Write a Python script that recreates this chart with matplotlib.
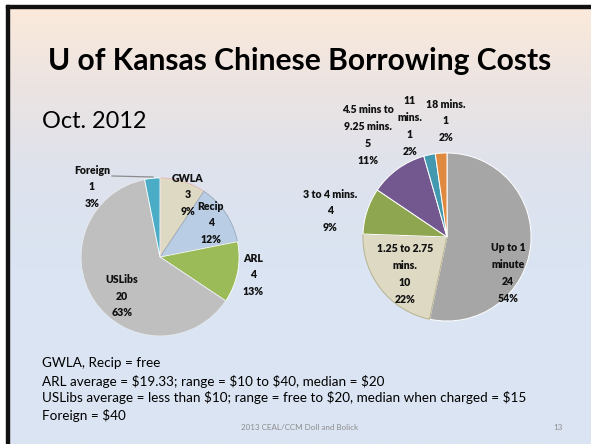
import matplotlib
matplotlib.use("Agg")
import matplotlib.pyplot as plt
import numpy as np
from matplotlib.patches import Rectangle

W, H = 591, 444
DPI = 100

# ---------------- data ----------------
left_cats = ['GWLA', 'Recip', 'ARL', 'USLibs', 'Foreign']
left_vals = [3, 4, 4, 20, 1]
left_pcts = ['9%', '12%', '13%', '63%', '3%']

right_cats = ['Up to 1\nminute', '1.25 to 2.75\nmins.', '3 to 4 mins.',
              '4.5 mins to\n9.25 mins.', '11\nmins.', '18 mins.']
right_vals = [24, 10, 4, 5, 1, 1]
right_pcts = ['54%', '22%', '9%', '11%', '2%', '2%']

title = 'U of Kansas Chinese Borrowing Costs'
subtitle = 'Oct. 2012'
notes = ['GWLA, Recip = free',
         'ARL average = $19.33; range = $10 to $40, median = $20',
         'USLibs average = less than $10; range = free to $20, median when charged = $15',
         'Foreign = $40']
footer = '2013 CEAL/CCM Doll and Bolick'
page = '13'

# ---------------- styles ----------------
FONT = 'Lato'
left_colors = ['#DDD9C3', '#B9CDE5', '#9BBB59', '#BFBFBF', '#4BACC6']
left_edges = ['#E3B5B3', '#9AAABA', '#FFFFFF', '#E8ECF2', '#FFFFFF']
left_explode = [0.0, 0.0, 0.07, 0.0, 0.06]
right_colors = ['#A6A6A6', '#DDD9C3', '#8DA64F', '#72588E', '#4198AF', '#E08A40']
right_edges = ['#FFFFFF', '#B8B28E', '#FFFFFF', '#FFFFFF', '#FFFFFF', '#FFFFFF']
right_explode = [0.05, 0.1, 0.07, 0.06, 0.06, 0.06]

fig = plt.figure(figsize=(W / DPI, H / DPI), dpi=DPI)
ax = fig.add_axes([0, 0, 1, 1])
ax.set_xlim(0, W)
ax.set_ylim(0, H)
ax.set_aspect('equal')
ax.axis('off')


def Y(y):
    return H - y


# background: white margin, gradient slide, black frame
ax.add_patch(Rectangle((0, 0), W, H, color='white', zorder=0))
stops = np.array([[252, 234, 219], [236, 228, 226], [222, 226, 237], [218, 228, 242], [220, 229, 243]]) / 255.0
pos = np.array([0.0, 0.18, 0.38, 0.6, 1.0])
t = np.linspace(0, 1, 256)
grad = np.stack([np.interp(t, pos, stops[:, k]) for k in range(3)], axis=1)[:, None, :]
ax.imshow(grad, extent=(8, W, 0, Y(7)), aspect='auto', origin='upper', zorder=0.5)
ax.add_patch(Rectangle((5.5, 0), 3, Y(5), color='#111111', zorder=1))
ax.add_patch(Rectangle((5.5, Y(8)), W, 3, color='#111111', zorder=1))


def fit_text(x, y, s, target_w, ha='left', **kw):
    txt = ax.text(x, Y(y), s, ha=ha, va='center', fontfamily=FONT, parse_math=False, **kw)
    fig.canvas.draw()
    r = fig.canvas.get_renderer()
    w = txt.get_window_extent(renderer=r).width
    txt.set_fontsize(txt.get_fontsize() * target_w / w)
    return txt


fit_text(300, 61, title, 505, ha='center', fontweight='bold', fontsize=24, color='black')
fit_text(42, 122, subtitle, 104, ha='left', fontsize=18, color='black')

note_ys = [363, 381, 398, 416]
t0 = ax.text(42, Y(note_ys[2]), notes[2], ha='left', va='center', fontfamily=FONT,
             fontsize=9, parse_math=False)
fig.canvas.draw()
wid = t0.get_window_extent(renderer=fig.canvas.get_renderer()).width
fs_notes = 9 * 482 / wid
t0.set_fontsize(fs_notes)
for i, (s, yy) in enumerate(zip(notes, note_ys)):
    if i == 2:
        continue
    ax.text(42, Y(yy), s, ha='left', va='center', fontfamily=FONT, fontsize=fs_notes,
            parse_math=False)

ax.text(300, Y(428), footer, ha='center', va='center', fontfamily=FONT, fontsize=5.8, color='#8C8C8C')
ax.text(558, Y(428), page, ha='center', va='center', fontfamily=FONT, fontsize=5.8, color='#8C8C8C')

# ---------------- pies ----------------
wl, _ = ax.pie(left_vals, colors=left_colors, explode=left_explode, startangle=90,
               counterclock=False, center=(160, Y(257)), radius=79, frame=True,
               wedgeprops=dict(linewidth=0.6))
for w_, ec in zip(wl, left_edges):
    w_.set_edgecolor(ec)
    w_.set_zorder(2)

wr, _ = ax.pie(right_vals, colors=right_colors, explode=right_explode, startangle=90,
               counterclock=False, center=(447, Y(237)), radius=84, frame=True,
               wedgeprops=dict(linewidth=0.7))
for w_, ec in zip(wr, right_edges):
    w_.set_edgecolor(ec)
    w_.set_zorder(2)

ax.set_xlim(0, W)
ax.set_ylim(0, H)
ax.axis('off')

lab_kw = dict(ha='center', va='center', fontfamily=FONT, fontweight='heavy',
              fontsize=7.6, linespacing=1.65, color='#111111', zorder=5)

left_label_pos = [(188, 195), (211, 223), (253, 275), (122, 296), (92, 187)]
for c, v, p, (lx, ly) in zip(left_cats, left_vals, left_pcts, left_label_pos):
    ax.text(lx, Y(ly), f'{c}\n{v}\n{p}', **lab_kw)
ax.plot([112, 153], [Y(176), Y(177)], color='#8C8C8C', lw=0.9, zorder=3)

right_label_pos = [(508, 273), (405, 274), (330, 211), (368, 135), (410, 126), (446, 121)]
for c, v, p, (lx, ly) in zip(right_cats, right_vals, right_pcts, right_label_pos):
    ax.text(lx, Y(ly), f'{c}\n{v}\n{p}', **lab_kw)

fig.savefig('out.png', dpi=DPI)
